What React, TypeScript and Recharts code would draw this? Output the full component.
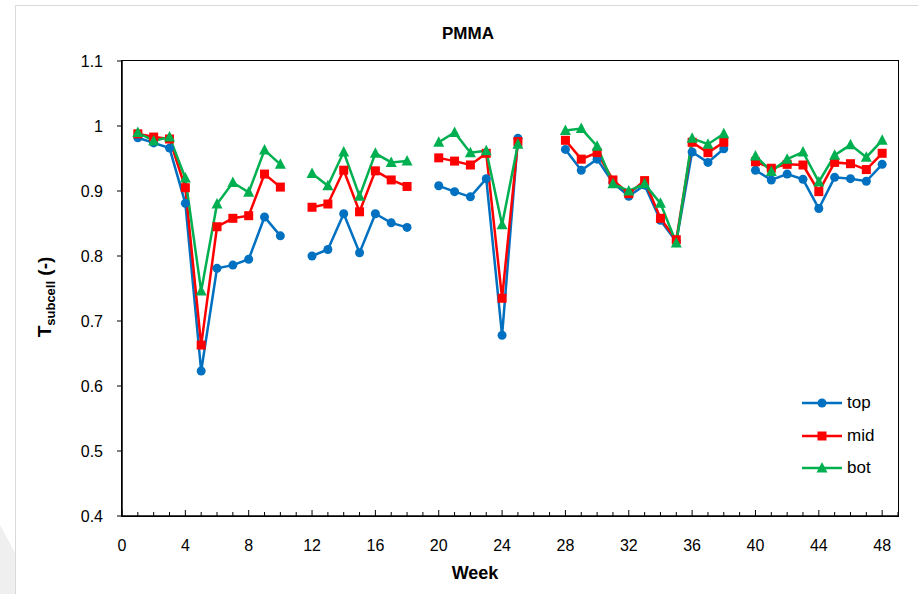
import { LineChart, Line, XAxis, YAxis } from 'recharts';

// weeks 1..48, null = no measurement that week
const weeks = Array.from({ length: 48 }, (_, i) => i + 1);

const topVals = [
  0.982, 0.974, 0.966, 0.881, 0.623, 0.781, 0.786, 0.795, 0.860, 0.831, null,
  0.800, 0.810, 0.865, 0.805, 0.865, 0.851, 0.844, null,
  0.908, 0.899, 0.891, 0.919, 0.678, 0.981, null, null,
  0.964, 0.932, 0.949, 0.913, 0.892, 0.909, 0.855, 0.822, 0.960, 0.944, 0.965, null,
  0.932, 0.917, 0.926, 0.918, 0.873, 0.921, 0.919, 0.915, 0.941,
];
const midVals = [
  0.988, 0.983, 0.980, 0.905, 0.663, 0.845, 0.858, 0.862, 0.926, 0.906, null,
  0.875, 0.880, 0.932, 0.868, 0.931, 0.917, 0.907, null,
  0.951, 0.946, 0.940, 0.958, 0.735, 0.976, null, null,
  0.978, 0.949, 0.959, 0.917, 0.896, 0.916, 0.858, 0.825, 0.975, 0.959, 0.975, null,
  0.945, 0.935, 0.941, 0.940, 0.899, 0.944, 0.942, 0.933, 0.958,
];
const botVals = [
  0.990, 0.977, 0.983, 0.920, 0.746, 0.880, 0.913, 0.898, 0.963, 0.941, null,
  0.927, 0.908, 0.960, 0.892, 0.958, 0.944, 0.946, null,
  0.975, 0.990, 0.959, 0.962, 0.848, 0.972, null, null,
  0.993, 0.996, 0.969, 0.911, 0.900, 0.911, 0.881, 0.820, 0.981, 0.972, 0.988, null,
  0.954, 0.930, 0.949, 0.960, 0.914, 0.955, 0.971, 0.952, 0.978,
];

const xTicks = Array.from({ length: 50 }, (_, i) => i);
const yTicks = [0.4, 0.5, 0.6, 0.7, 0.8, 0.9, 1.0, 1.1];

const BLUE = '#0070C0';
const RED = '#FF0000';
const GREEN = '#00B050';
const FONT = '"Liberation Sans", Arial, sans-serif';

const data = weeks.map((w, i) => ({ week: w, top: topVals[i], mid: midVals[i], bot: botVals[i] }));

const circleDot = (p: any) => {
  if (p.cy == null || p.value == null) return <g key={p.key ?? p.index} />;
  return <circle key={p.key ?? p.index} cx={p.cx} cy={p.cy} r={4.5} fill={BLUE} />;
};
const squareDot = (p: any) => {
  if (p.cy == null || p.value == null) return <g key={p.key ?? p.index} />;
  return <rect key={p.key ?? p.index} x={p.cx - 4.5} y={p.cy - 4.5} width={9} height={9} fill={RED} />;
};
const triDot = (p: any) => {
  if (p.cy == null || p.value == null) return <g key={p.key ?? p.index} />;
  const { cx, cy } = p;
  return (
    <polygon
      key={p.key ?? p.index}
      points={`${cx},${cy - 6} ${cx - 5.5},${cy + 4.5} ${cx + 5.5},${cy + 4.5}`}
      fill={GREEN}
    />
  );
};

const XTick = (props: any) => {
  const { x, y, payload } = props;
  const w = payload.value;
  const major = w % 4 === 0;
  return (
    <g>
      <line x1={x} x2={x} y1={y} y2={y - (major ? 6 : 4)} stroke="#000" strokeWidth={1} />
      {major && w <= 48 && (
        <text x={x} y={y + 35} textAnchor="middle" fontSize={16} fill="#000" fontFamily={FONT}>
          {w}
        </text>
      )}
    </g>
  );
};

const legendItems = [
  { name: 'top', color: BLUE, shape: 'circle' },
  { name: 'mid', color: RED, shape: 'square' },
  { name: 'bot', color: GREEN, shape: 'tri' },
];

const LegendBox = () => (
  <div style={{ position: 'absolute', left: 802, top: 387, fontFamily: FONT, fontSize: 17 }}>
    {legendItems.map((it) => (
      <div key={it.name} style={{ display: 'flex', alignItems: 'center', height: 32.5 }}>
        <svg width={42} height={14}>
          <line x1={0} x2={40} y1={7} y2={7} stroke={it.color} strokeWidth={2.5} />
          {it.shape === 'circle' && <circle cx={20} cy={7} r={4.5} fill={it.color} />}
          {it.shape === 'square' && <rect x={15.5} y={2.5} width={9} height={9} fill={it.color} />}
          {it.shape === 'tri' && <polygon points="20,1 14.5,11.5 25.5,11.5" fill={it.color} />}
        </svg>
        <span style={{ marginLeft: 3, color: '#000' }}>{it.name}</span>
      </div>
    ))}
  </div>
);

export default function App() {
  return (
    <div style={{ position: 'absolute', left: 0, top: 0, width: 918, height: 594, background: '#fff', fontFamily: FONT, overflow: 'hidden' }}>
      {/* page shadow and chart-area border */}
      <svg style={{ position: 'absolute', left: 0, top: 0 }} width={918} height={594}>
        <polygon points="0,525 15,553 15,594 0,594" fill="#efefef" />
      </svg>
      <div style={{ position: 'absolute', left: 15, top: 5, width: 940, height: 640, border: '1.5px solid #d9d9d9' }} />
      <div style={{ position: 'absolute', left: 0, top: 24, width: 936, textAlign: 'center', fontWeight: 'bold', fontSize: 17 }}>
        PMMA
      </div>
      <div style={{ position: 'absolute', left: 0, top: 563, width: 950, textAlign: 'center', fontWeight: 'bold', fontSize: 18 }}>
        Week
      </div>
      <div
        style={{
          position: 'absolute',
          left: 46,
          top: 297,
          transform: 'translate(-50%, -50%) rotate(-90deg)',
          whiteSpace: 'nowrap',
          fontWeight: 'bold',
          fontSize: 19,
        }}
      >
        T<sub style={{ fontSize: 13 }}>subcell</sub> (-)
      </div>
      {/* plot-area frame */}
      <div style={{ position: 'absolute', left: 121, top: 60, width: 776, height: 455, border: '1.5px solid #000', pointerEvents: 'none' }} />
      <div style={{ position: 'absolute', left: 0, top: 0 }}>
        <LineChart width={918} height={594} data={data} margin={{ top: 61, right: 20, bottom: 18, left: 62 }}>
          <XAxis
            dataKey="week"
            type="number"
            domain={[0, 49]}
            ticks={xTicks}
            interval={0}
            tickSize={0}
            tickMargin={0}
            tickLine={false}
            tick={<XTick />}
            height={60}
            axisLine={{ stroke: '#000', strokeWidth: 1.5 }}
          />
          <YAxis
            type="number"
            domain={[0.4, 1.1]}
            ticks={yTicks}
            interval={0}
            width={60}
            tickSize={5}
            tickMargin={14}
            tickFormatter={(v: number) => String(Number(v.toFixed(1)))}
            tick={{ fontSize: 16, fill: '#000', fontFamily: FONT }}
            tickLine={{ stroke: '#000' }}
            axisLine={{ stroke: '#000', strokeWidth: 1.5 }}
          />
          <Line dataKey="top" name="top" stroke={BLUE} strokeWidth={2.5} dot={circleDot} activeDot={false} connectNulls={false} isAnimationActive={false} />
          <Line dataKey="mid" name="mid" stroke={RED} strokeWidth={2.5} dot={squareDot} activeDot={false} connectNulls={false} isAnimationActive={false} />
          <Line dataKey="bot" name="bot" stroke={GREEN} strokeWidth={2.5} dot={triDot} activeDot={false} connectNulls={false} isAnimationActive={false} />
        </LineChart>
      </div>
      <LegendBox />
    </div>
  );
}
